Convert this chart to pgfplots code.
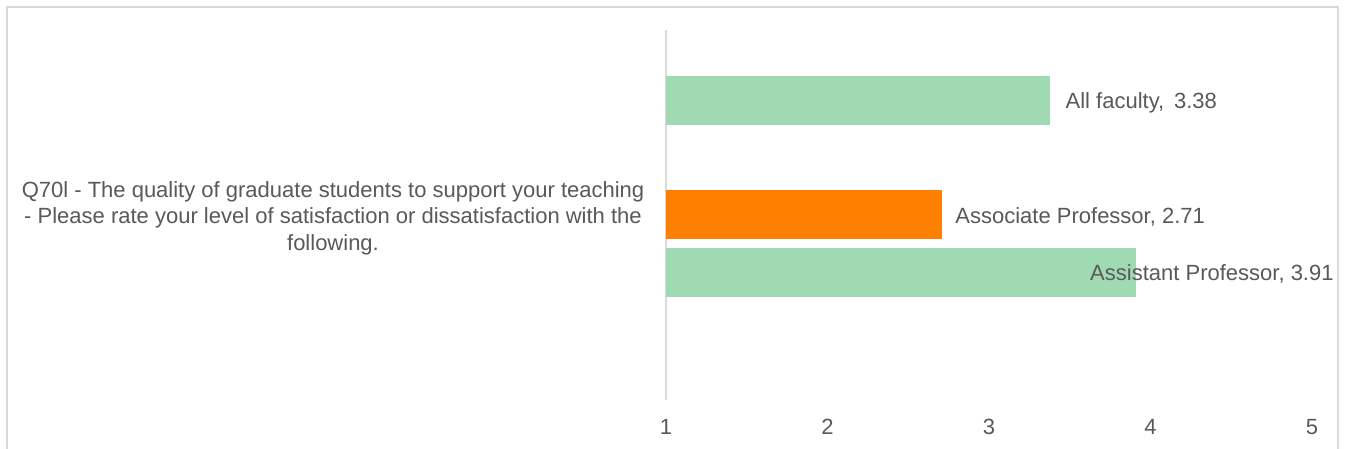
\documentclass[border=0pt]{standalone}
\usepackage{pgfplots}
\pgfplotsset{compat=1.18}
\usepackage{fontspec}
\setmainfont{Liberation Sans}
\definecolor{txt}{HTML}{595959}
\definecolor{grn}{HTML}{A0DAB3}
\definecolor{org}{HTML}{FF8000}
\definecolor{brd}{HTML}{D9D9D9}
\begin{document}
\begin{tikzpicture}[x=0.75pt,y=0.75pt]
\useasboundingbox (0,0) rectangle (1345,449);
\begin{scope}
\clip (0,0) rectangle (1345,449);
\fill[white] (0,0) rectangle (1345,449);
\draw[brd, line width=1.2pt] (7,-20) rectangle (1338,442);
\end{scope}
\node[align=center, text=txt, font=\fontsize{16.5}{19.9}\selectfont] at (333,231)
 {Q70l - The quality of graduate students to support your teaching\\
  - Please rate your level of satisfaction or dissatisfaction with the\\
  following.};
\begin{axis}[at={(499.5pt,36.75pt)}, anchor=south west, scale only axis,
  width=484.5pt, height=277.5pt,
  xmin=1, xmax=5, ymin=0, ymax=370,
  axis x line*=bottom, axis y line*=left,
  x axis line style={draw=none},
  y axis line style={draw=brd, line width=1pt},
  xtick={1,2,3,4,5}, ytick=\empty,
  major tick length=0pt,
  /pgf/number format/assume math mode=true,
  xticklabel style={anchor=center, yshift=-20.25pt, text=txt, font=\fontsize{16.5}{19.9}\selectfont},
]
\addplot[xbar, bar shift=0pt, bar width=36.75pt, fill=grn, draw=none,
  point meta=explicit symbolic, nodes near coords,
  nodes near coords style={anchor=west, inner sep=0pt, xshift=11.25pt, yshift=-1.5pt, text=txt, font=\fontsize{16.5}{19.9}\selectfont}]
  coordinates {(3.38,299.5) [All faculty,\, 3.38]};
\addplot[xbar, bar shift=0pt, bar width=36.75pt, fill=org, draw=none,
  point meta=explicit symbolic, nodes near coords,
  nodes near coords style={anchor=west, inner sep=0pt, xshift=9.75pt, yshift=-1.5pt, text=txt, font=\fontsize{16.5}{19.9}\selectfont}]
  coordinates {(2.71,185) [Associate Professor, 2.71]};
\addplot[xbar, bar shift=0pt, bar width=36.75pt, fill=grn, draw=none,
  point meta=explicit symbolic, nodes near coords,
  nodes near coords style={anchor=west, inner sep=0pt, xshift=-34.5pt, yshift=-0.75pt, text=txt, font=\fontsize{16.5}{19.9}\selectfont}]
  coordinates {(3.91,127.5) [Assistant Professor, 3.91]};
\end{axis}
\end{tikzpicture}
\end{document}
